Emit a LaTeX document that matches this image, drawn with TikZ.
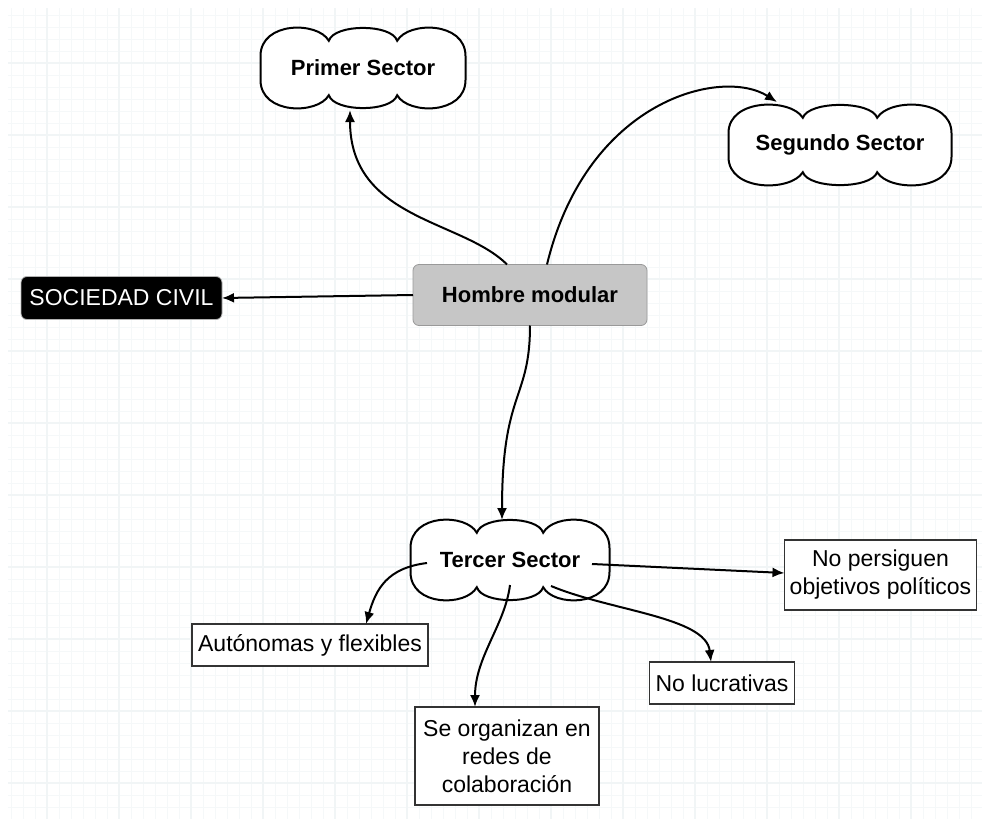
\documentclass[tikz,border=0pt]{standalone}
\usepackage{fontspec}
\setmainfont{Liberation Sans}
\usetikzlibrary{arrows.meta}
\usetikzlibrary{positioning}
\usetikzlibrary{calc}
\pgfdeclarelayer{fondo}
\pgfsetlayers{fondo,main}
\tikzstyle{link}=[->,>={Latex[length=6pt,width=5pt]},line width=1pt,color=black]
\tikzstyle{gridfine}=[line width=0.4pt,color=cyan!20!gray!7]
\tikzstyle{gridbold}=[line width=0.7pt,color=cyan!25!gray!10]

% contorno de nube (tres lóbulos arriba y abajo)
\newcommand{\nube}[1]{%
  \draw[line width=1pt,fill=white] let \p1=(#1.north west), \p2=(#1.south east),
      \n1={\x2-\x1}, \n2={\y1-\y2} in
    (\x1,\y1-0.35*\n2)
    .. controls (\x1,\y1+0.085*\n2) and (\x1+0.28*\n1,\y1+0.085*\n2) .. (\x1+\n1/3,\y1-0.16*\n2)
    .. controls (\x1+0.36*\n1,\y1+0.055*\n2) and (\x2-0.36*\n1,\y1+0.055*\n2) .. (\x2-\n1/3,\y1-0.16*\n2)
    .. controls (\x2-0.28*\n1,\y1+0.085*\n2) and (\x2,\y1+0.085*\n2) .. (\x2,\y1-0.35*\n2)
    -- (\x2,\y2+0.35*\n2)
    .. controls (\x2,\y2-0.085*\n2) and (\x2-0.28*\n1,\y2-0.085*\n2) .. (\x2-\n1/3,\y2+0.16*\n2)
    .. controls (\x2-0.36*\n1,\y2-0.055*\n2) and (\x1+0.36*\n1,\y2-0.055*\n2) .. (\x1+\n1/3,\y2+0.16*\n2)
    .. controls (\x1+0.28*\n1,\y2-0.085*\n2) and (\x1,\y2-0.085*\n2) .. (\x1,\y2+0.35*\n2)
    -- cycle;
}

\begin{document}
\begin{tikzpicture}[x=0.5pt,y=-0.5pt]
    \tikzstyle{sector}=[inner sep=0pt,outer sep=0pt,minimum height=40pt,font=\fontsize{11}{13}\selectfont\bfseries]
    \tikzstyle{nodo}=[draw=black!80,line width=0.75pt,fill=white,inner sep=1pt,outer sep=0pt,align=center,font=\fontsize{11.5}{14}\selectfont]

    % fondo blanco y cuadrícula
    \useasboundingbox (0,0) rectangle (982,819);
    \begin{pgfonlayer}{fondo}
    \fill[white] (0,0) rectangle (982,819);
    \foreach \gx in {11,23,...,982} \draw[gridfine] (\gx,8) -- (\gx,819);
    \foreach \gy in {15,27,...,819} \draw[gridfine] (8,\gy) -- (982,\gy);
    \foreach \gx in {47,119,...,982} \draw[gridbold] (\gx,8) -- (\gx,819);
    \foreach \gy in {63,135,...,819} \draw[gridbold] (8,\gy) -- (982,\gy);
    \end{pgfonlayer}

    \node[draw=gray!80,fill=gray!45,rounded corners=3pt,minimum width=117pt,minimum height=30.5pt,outer sep=0pt,font=\fontsize{11}{13}\selectfont\bfseries] (hombre) at (530,295) {Hombre modular};
    \node[fill=black,draw=gray!60,rounded corners=3pt,text=white,minimum width=100.5pt,minimum height=21.5pt,outer sep=0pt,font=\fontsize{11.5}{14}\selectfont] (sociedad) [left=95.5pt of hombre,yshift=-1.5pt] {SOCIEDAD CIVIL};

    % sectores
    \node[sector,minimum width=102.5pt] (primer) [above=78.25pt of hombre,xshift=-83.5pt] {Primer Sector};
    \node[sector,minimum width=111.5pt] (segundo) [above=39.75pt of hombre,xshift=155pt] {Segundo Sector};
    \node[sector,minimum width=99.5pt] (tercer) [below=97.25pt of hombre,xshift=-10pt] {Tercer Sector};

    \node[nodo,minimum width=118pt,minimum height=21pt] (autonomas) [below=12pt of tercer,xshift=-100pt] {Autónomas y flexibles};
    \node[nodo,minimum width=92pt,minimum height=49pt] (redes) [below=53.5pt of tercer,xshift=-1.5pt] {Se organizan en\\redes de\\colaboración};
    \node[nodo,minimum width=72.5pt,minimum height=21pt] (lucrativas) [below=31pt of tercer,xshift=106pt] {No lucrativas};
    \node[nodo,minimum width=96pt,minimum height=35pt] (politicos) [right=87.5pt of tercer,yshift=-7.5pt] {No persiguen\\objetivos políticos};

    \begin{pgfonlayer}{fondo}
    \nube{primer}
    \nube{segundo}
    \nube{tercer}
    \end{pgfonlayer}

    \draw[link] ([xshift=-11.5pt]hombre.north) .. controls +(-45,-45) and +(0,110) .. ([xshift=-6.5pt,yshift=-1pt]primer.south);
    \draw[link] ([xshift=8.5pt]hombre.north) .. controls +(40,-165) and +(-55,-35) .. ([xshift=-31.5pt,yshift=1.5pt]segundo.north);
    \draw[link] (hombre.west) -- (sociedad.east);
    \draw[link] (hombre.south) .. controls +(0,75) and +(0,-130) .. ([xshift=-4pt]tercer.north);

    \draw[link] ([xshift=-41.5pt,yshift=-1.5pt]tercer.center) .. controls +(-40,5) and +(10,-35) .. ([xshift=28pt]autonomas.north);
    \draw[link] ([yshift=-12.5pt]tercer.center) .. controls +(-5,40) and +(0,-50) .. ([xshift=-16pt]redes.north);
    \draw[link] ([xshift=20.5pt,yshift=-13pt]tercer.center) .. controls +(60,25) and +(-5,-45) .. ([xshift=-5.5pt]lucrativas.north);
    \draw[link] ([xshift=41pt,yshift=-2pt]tercer.center) -- ([yshift=1pt]politicos.west);
\end{tikzpicture}
\end{document}
